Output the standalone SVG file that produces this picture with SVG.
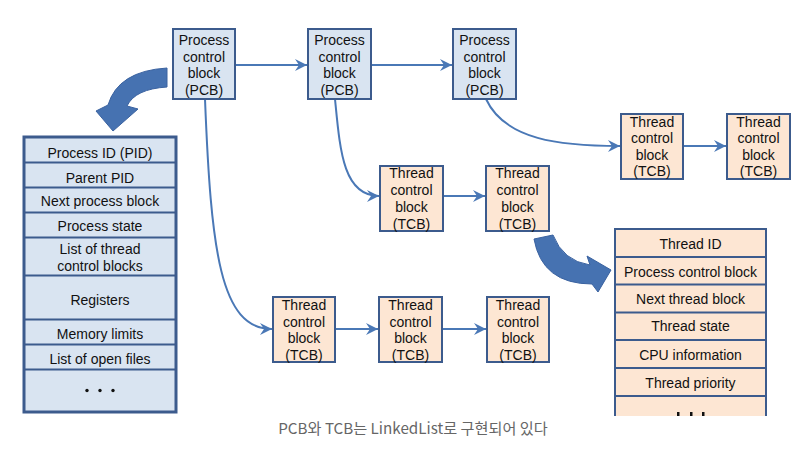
<svg xmlns="http://www.w3.org/2000/svg" width="810" height="452" viewBox="0 0 810 452">
<defs>
<style>
.b{stroke:#3c5b8d;stroke-width:2}
.p{fill:#d9e4f1}
.t{fill:#fde6d3}
.tx{font-family:"Liberation Sans",Arial,sans-serif;font-size:14px;fill:#111;text-anchor:middle}
.c{fill:none;stroke:#4a78b6;stroke-width:2}
.big{fill:#4672b1;stroke:#3a62a0;stroke-width:1}
.dot{fill:#111}
</style>
<marker id="ah" markerUnits="userSpaceOnUse" markerWidth="14" markerHeight="14" refX="12" refY="6" orient="auto">
<path d="M0,0 L12,6 L0,12 L4,6 Z" fill="#4a78b6"/>
</marker>
<clipPath id="clipR"><rect x="0" y="0" width="810" height="416"/></clipPath>
</defs>
<rect width="810" height="452" fill="#fff"/>

<g id="connectors">
<path class="c" d="M235,65 L307,65" marker-end="url(#ah)"/>
<path class="c" d="M371,65 L452,65" marker-end="url(#ah)"/>
<path class="c" d="M486,99 C505,140 560,146 620,146" marker-end="url(#ah)"/>
<path class="c" d="M683,146 L726,146" marker-end="url(#ah)"/>
<path class="c" d="M335,99 C340,150 343,196 379,196" marker-end="url(#ah)"/>
<path class="c" d="M443,196 L485,196" marker-end="url(#ah)"/>
<path class="c" d="M205,99 C211,250 220,329 272,329" marker-end="url(#ah)"/>
<path class="c" d="M335,329 L378,329" marker-end="url(#ah)"/>
<path class="c" d="M442,329 L486,329" marker-end="url(#ah)"/>
<path class="big" d="M167,68 Q118,71 108,105 L96,111 L113,131 L138,109 L127,106 Q135,89 167,87 Z"/>
<path class="big" d="M534,239 Q542,284 592,284 L598,292 L611,270 L587,256 L590,265 Q563,261 553,235 Z"/>
</g>

<g id="pcb1">
<rect class="b p" x="173" y="29" width="62" height="70"/>
<text class="tx" x="204" y="45">Process</text>
<text class="tx" x="204" y="61.5">control</text>
<text class="tx" x="204" y="78">block</text>
<text class="tx" x="204" y="94.5">(PCB)</text>
</g>
<g id="pcb2">
<rect class="b p" x="308" y="29" width="63" height="70"/>
<text class="tx" x="339.5" y="45">Process</text>
<text class="tx" x="339.5" y="61.5">control</text>
<text class="tx" x="339.5" y="78">block</text>
<text class="tx" x="339.5" y="94.5">(PCB)</text>
</g>
<g id="pcb3">
<rect class="b p" x="453" y="29" width="63" height="70"/>
<text class="tx" x="484.5" y="45">Process</text>
<text class="tx" x="484.5" y="61.5">control</text>
<text class="tx" x="484.5" y="78">block</text>
<text class="tx" x="484.5" y="94.5">(PCB)</text>
</g>

<g id="tcbA">
<rect class="b t" x="621" y="114" width="62" height="65"/>
<text class="tx" x="652" y="126.5">Thread</text>
<text class="tx" x="652" y="143">control</text>
<text class="tx" x="652" y="159.5">block</text>
<text class="tx" x="652" y="176">(TCB)</text>
</g>
<g id="tcbB">
<rect class="b t" x="727" y="114" width="63" height="65"/>
<text class="tx" x="758.5" y="126.5">Thread</text>
<text class="tx" x="758.5" y="143">control</text>
<text class="tx" x="758.5" y="159.5">block</text>
<text class="tx" x="758.5" y="176">(TCB)</text>
</g>
<g id="tcbC">
<rect class="b t" x="380" y="166" width="63" height="65"/>
<text class="tx" x="411.5" y="178">Thread</text>
<text class="tx" x="411.5" y="195">control</text>
<text class="tx" x="411.5" y="211.5">block</text>
<text class="tx" x="411.5" y="228.5">(TCB)</text>
</g>
<g id="tcbD">
<rect class="b t" x="486" y="166" width="63" height="65"/>
<text class="tx" x="517.5" y="178">Thread</text>
<text class="tx" x="517.5" y="195">control</text>
<text class="tx" x="517.5" y="211.5">block</text>
<text class="tx" x="517.5" y="228.5">(TCB)</text>
</g>
<g id="tcbE">
<rect class="b t" x="273" y="297" width="62" height="65"/>
<text class="tx" x="304" y="310">Thread</text>
<text class="tx" x="304" y="326.5">control</text>
<text class="tx" x="304" y="342.5">block</text>
<text class="tx" x="304" y="359.5">(TCB)</text>
</g>
<g id="tcbF">
<rect class="b t" x="379" y="297" width="63" height="65"/>
<text class="tx" x="410.5" y="310">Thread</text>
<text class="tx" x="410.5" y="326.5">control</text>
<text class="tx" x="410.5" y="342.5">block</text>
<text class="tx" x="410.5" y="359.5">(TCB)</text>
</g>
<g id="tcbG">
<rect class="b t" x="487" y="297" width="62" height="65"/>
<text class="tx" x="518" y="310">Thread</text>
<text class="tx" x="518" y="326.5">control</text>
<text class="tx" x="518" y="342.5">block</text>
<text class="tx" x="518" y="359.5">(TCB)</text>
</g>

<g id="pcb-table">
<rect class="p" x="24" y="137" width="152" height="275" stroke="#3c5b8d" stroke-width="3"/>
<path class="b" fill="none" d="M24,162.5H176M24,187.5H176M24,212.5H176M24,237.5H176M24,275.5H176M24,319.5H176M24,344.5H176M24,369.5H176"/>
<text class="tx" x="100" y="157.5">Process ID (PID)</text>
<text class="tx" x="100" y="182.5">Parent PID</text>
<text class="tx" x="100" y="206">Next process block</text>
<text class="tx" x="100" y="230.5">Process state</text>
<text class="tx" x="100" y="254">List of thread</text>
<text class="tx" x="100" y="270.5">control blocks</text>
<text class="tx" x="100" y="305">Registers</text>
<text class="tx" x="100" y="339">Memory limits</text>
<text class="tx" x="100" y="364">List of open files</text>
<circle class="dot" cx="87" cy="390.5" r="1.7"/>
<circle class="dot" cx="100" cy="390.5" r="1.7"/>
<circle class="dot" cx="113" cy="390.5" r="1.7"/>
</g>

<g id="tcb-table" clip-path="url(#clipR)">
<rect class="b t" x="615" y="229" width="151" height="210"/>
<path class="b" fill="none" d="M615,257H766M615,284.5H766M615,312.5H766M615,340H766M615,368H766M615,396H766"/>
<text class="tx" x="690.5" y="249">Thread ID</text>
<text class="tx" x="690.5" y="277">Process control block</text>
<text class="tx" x="690.5" y="304">Next thread block</text>
<text class="tx" x="690.5" y="331">Thread state</text>
<text class="tx" x="690.5" y="360">CPU information</text>
<text class="tx" x="690.5" y="388">Thread priority</text>
<rect class="dot" x="677" y="412" width="2.5" height="5"/>
<rect class="dot" x="690" y="412" width="2.5" height="5"/>
<rect class="dot" x="702" y="412" width="2.5" height="5"/>
</g>

<text x="413" y="434" font-family="'Noto Sans CJK KR','Noto Sans',sans-serif" font-size="15.2" fill="#666" text-anchor="middle">PCB와 TCB는 LinkedList로 구현되어 있다</text>
</svg>
